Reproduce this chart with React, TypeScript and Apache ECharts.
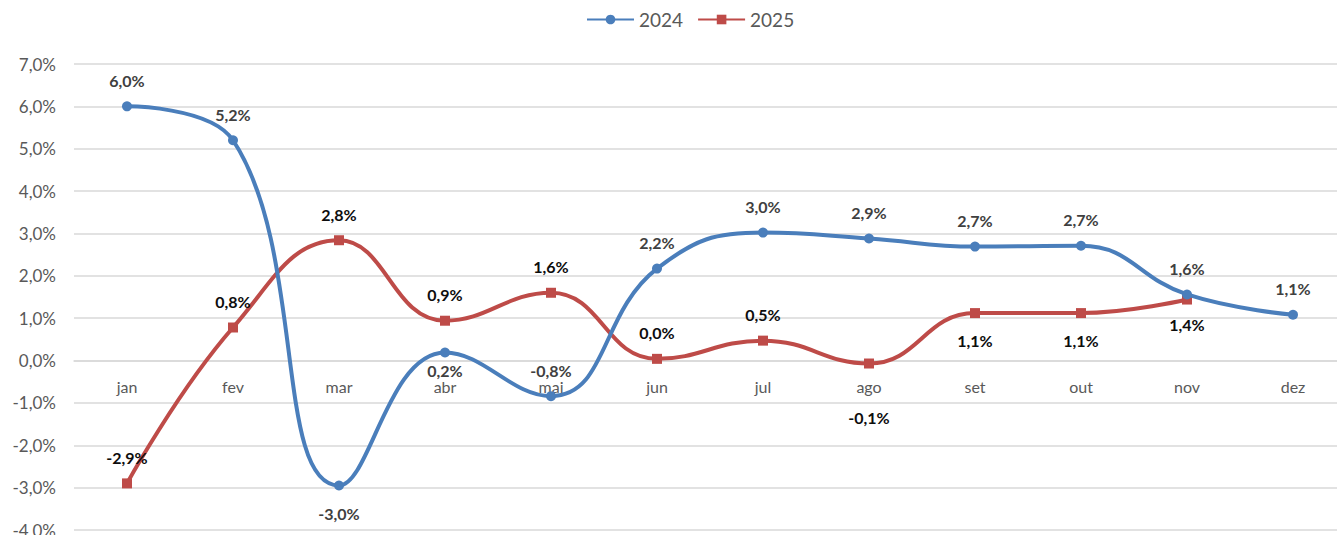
import React, { useEffect, useRef } from "react";
import * as echarts from "echarts";

const months = ["jan", "fev", "mar", "abr", "mai", "jun", "jul", "ago", "set", "out", "nov", "dez"];
const values2024 = [6.0, 5.2, -2.95, 0.19, -0.84, 2.17, 3.02, 2.88, 2.69, 2.71, 1.56, 1.08];
const values2025 = [-2.9, 0.78, 2.84, 0.94, 1.6, 0.04, 0.47, -0.07, 1.12, 1.12, 1.44];
const labelPos2024 = ["top", "top", "bottom", "bottom", "top", "top", "top", "top", "top", "top", "top", "top"];
const labelPos2025 = ["top", "top", "top", "top", "top", "top", "top", "bottom", "bottom", "bottom", "bottom"];
const labelDist2024 = [13, 13, 15, 5, 13, 13, 13, 13, 13, 13, 13, 13];
const labelDist2025 = [13, 13, 13, 13, 13, 13, 13, 41, 14, 14, 12];
const yTicks = { min: -4, max: 7, interval: 1 };

const FONT = "Lato";
const fmt = (v: number) => v.toFixed(1).replace(".", ",") + "%";

const GRID_TOP = 64;
const GRID_BOTTOM = 5;
const HEIGHT = 535;

export default function App() {
  const ref = useRef<HTMLDivElement>(null);
  useEffect(() => {
    if (!ref.current) return;
    const chart = echarts.init(ref.current, undefined, { renderer: "svg" });
    const mk = (vals: number[], pos: string[], dist: number[]) =>
      vals.map((v, i) => ({ value: v, label: { position: pos[i], distance: dist[i] } }));
    const gridH = HEIGHT - GRID_TOP - GRID_BOTTOM;
    const zeroFromBottom = (gridH * (0 - yTicks.min)) / (yTicks.max - yTicks.min);
    chart.setOption({
      animation: false,
      textStyle: { fontFamily: FONT },
      legend: {
        top: 5,
        left: 581,
        itemWidth: 47,
        itemHeight: 12,
        itemGap: 14,
        textStyle: { color: "#595959", fontSize: 19, fontFamily: FONT },
        data: ["2024", "2025"],
      },
      grid: { left: 74, right: 4, top: GRID_TOP, bottom: GRID_BOTTOM, containLabel: false, outerBoundsMode: "none" },
      xAxis: {
        type: "category",
        data: months,
        boundaryGap: true,
        position: "bottom",
        offset: -zeroFromBottom,
        axisLine: { show: true, onZero: false, lineStyle: { color: "#d9d9d9", width: 1.5 } },
        axisTick: { show: false },
        axisLabel: { color: "#595959", fontSize: 16, margin: 18, fontFamily: FONT },
        splitLine: { show: false },
      },
      yAxis: {
        type: "value",
        min: yTicks.min,
        max: yTicks.max,
        interval: yTicks.interval,
        axisLine: { show: false },
        axisTick: { show: false },
        axisLabel: {
          color: "#595959",
          fontSize: 17,
          margin: 18,
          fontFamily: FONT,
          formatter: (v: number) => fmt(v),
        },
        splitLine: { lineStyle: { color: "#d9d9d9", width: 1.5 } },
      },
      series: [
        {
          name: "2024",
          type: "line",
          smooth: 0.45,
          data: mk(values2024, labelPos2024, labelDist2024),
          symbol: "circle",
          symbolSize: 10,
          lineStyle: { color: "#4A7EBB", width: 4 },
          itemStyle: { color: "#4A7EBB" },
          label: {
            show: true,
            color: "#404040",
            fontWeight: "bold",
            fontSize: 16,
            fontFamily: FONT,
            formatter: (p: any) => fmt(p.value),
          },
          z: 3,
        },
        {
          name: "2025",
          type: "line",
          smooth: 0.45,
          data: mk(values2025, labelPos2025, labelDist2025),
          symbol: "rect",
          symbolSize: 10,
          lineStyle: { color: "#BE4B48", width: 4 },
          itemStyle: { color: "#BE4B48" },
          label: {
            show: true,
            color: "#0d0d0d",
            fontWeight: "bold",
            fontSize: 16,
            fontFamily: FONT,
            formatter: (p: any) => fmt(p.value),
          },
          z: 2,
        },
      ],
    });
    return () => chart.dispose();
  }, []);
  return (
    <div
      ref={ref}
      style={{ position: "fixed", left: 0, top: 0, width: 1350, height: HEIGHT, background: "#fff" }}
    />
  );
}
